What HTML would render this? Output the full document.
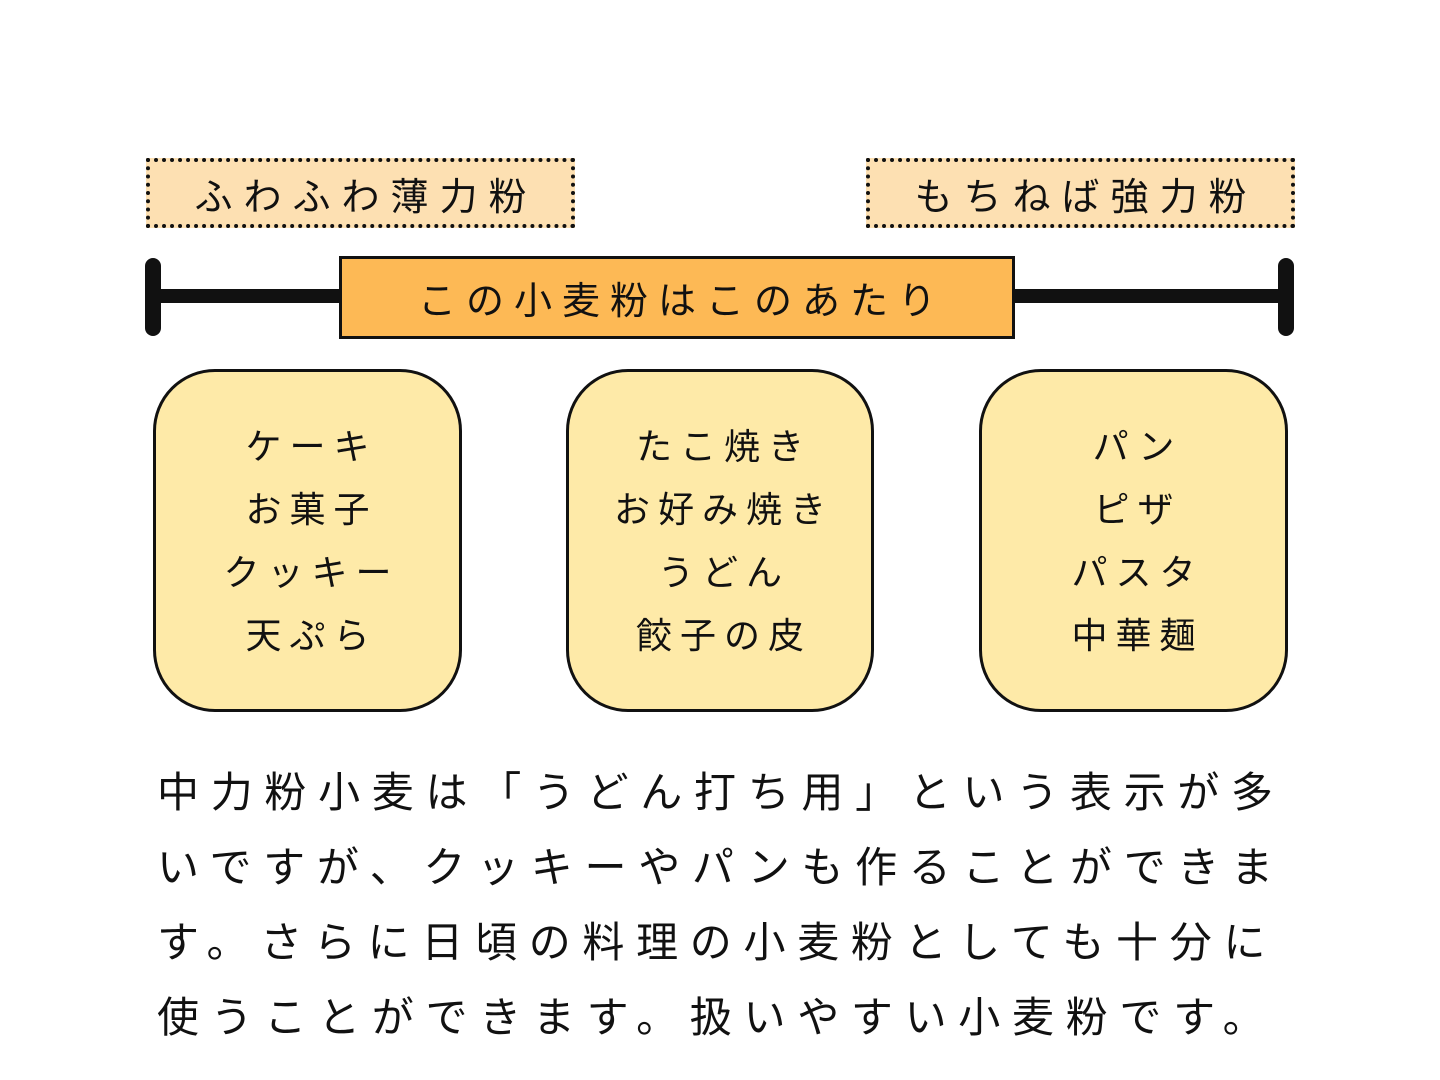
<!DOCTYPE html>
<html><head><meta charset="utf-8"><style>
*{margin:0;padding:0;box-sizing:border-box}
body{width:1440px;height:1080px;background:#fff;position:relative;overflow:hidden;font-family:"Liberation Sans","Noto Sans CJK JP",sans-serif;color:#111}
.abs{position:absolute}
.lbl{border:4px dotted #111;background:#fde0b2;display:flex;align-items:center;justify-content:center;font-size:38px;letter-spacing:11px;padding-left:11px}
.box{border:3px solid #111;background:#feeaa8;border-radius:62px;display:flex;flex-direction:column;align-items:center;justify-content:center;font-size:36px;letter-spacing:8px;line-height:63px;padding-left:8px}
.t{position:absolute;left:157px;font-size:42px;letter-spacing:11.7px;white-space:nowrap;line-height:50px}
</style></head><body>
<div class="abs lbl" style="left:146px;top:158px;width:429px;height:70px">ふわふわ薄力粉</div>
<div class="abs lbl" style="left:866px;top:158px;width:429px;height:70px">もちねば強力粉</div>
<div class="abs" style="left:153px;top:289px;width:1133px;height:14px;background:#111"></div>
<div class="abs" style="left:145px;top:258px;width:16px;height:78px;background:#111;border-radius:8px"></div>
<div class="abs" style="left:1278px;top:258px;width:16px;height:78px;background:#111;border-radius:8px"></div>
<div class="abs" style="left:339px;top:256px;width:676px;height:83px;background:#fdb955;border:3px solid #111;display:flex;align-items:center;justify-content:center;font-size:38px;letter-spacing:10px;padding-left:10px">この小麦粉はこのあたり</div>
<div class="abs box" style="left:153px;top:369px;width:309px;height:343px"><div>ケーキ</div><div>お菓子</div><div>クッキー</div><div>天ぷら</div></div>
<div class="abs box" style="left:566px;top:369px;width:308px;height:343px"><div>たこ焼き</div><div>お好み焼き</div><div>うどん</div><div>餃子の皮</div></div>
<div class="abs box" style="left:979px;top:369px;width:309px;height:343px"><div>パン</div><div>ピザ</div><div>パスタ</div><div>中華麺</div></div>
<div class="t" style="top:768px">中力粉小麦は「うどん打ち用」という表示が多</div>
<div class="t" style="top:843px">いですが、クッキーやパンも作ることができま</div>
<div class="t" style="top:918px">す。さらに日頃の料理の小麦粉としても十分に</div>
<div class="t" style="top:993px">使うことができます。扱いやすい小麦粉です。</div>
</body></html>
